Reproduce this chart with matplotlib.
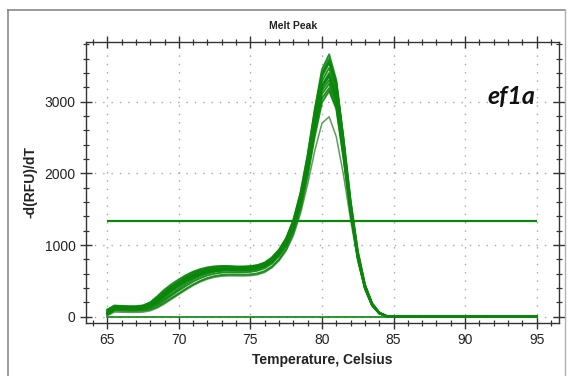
import numpy as np
import matplotlib.pyplot as plt
from matplotlib.ticker import MultipleLocator
from matplotlib.lines import Line2D

plt.rcParams['font.family'] = ['Liberation Sans', 'DejaVu Sans']

# temperatura [C]
temps = [65, 65.5, 66, 66.5, 67, 67.5, 68, 68.5, 69, 69.5, 70, 70.5, 71, 71.5, 72, 72.5,
         73, 73.5, 74, 74.5, 75, 75.5, 76, 76.5, 77, 77.5, 78, 78.5, 79, 79.5, 80, 80.5,
         81, 81.5, 82, 82.5, 83, 83.5, 84, 84.5, 85, 95]

# -d(RFU)/dT dla poszczegolnych dolkow
well_a = [90, 150, 145, 140, 140, 150, 190, 270, 360, 430, 495, 560, 615, 652, 678, 693, 700, 700, 695, 695, 700, 715, 750, 820, 930, 1090, 1340, 1720, 2250, 2900, 3450, 3660, 3300, 2500, 1620, 920, 450, 190, 60, 12, 2, 0]
well_b = [70, 140, 135, 130, 130, 140, 175, 250, 340, 415, 482, 545, 598, 638, 664, 680, 690, 690, 685, 685, 690, 705, 740, 810, 915, 1070, 1310, 1680, 2200, 2850, 3400, 3600, 3250, 2450, 1580, 890, 440, 180, 55, 10, 2, 0]
well_c = [60, 130, 128, 125, 125, 132, 165, 235, 320, 400, 470, 530, 580, 620, 648, 665, 675, 676, 672, 672, 678, 693, 728, 798, 905, 1060, 1300, 1660, 2170, 2800, 3350, 3540, 3200, 2420, 1560, 880, 430, 175, 52, 10, 1, 0]
well_d = [50, 125, 122, 118, 118, 124, 155, 222, 305, 385, 455, 515, 565, 605, 634, 652, 662, 664, 660, 660, 666, 682, 716, 785, 890, 1040, 1275, 1630, 2130, 2750, 3290, 3470, 3150, 2380, 1530, 860, 420, 170, 50, 9, 1, 0]
well_e = [40, 118, 115, 112, 112, 118, 145, 200, 272, 350, 420, 485, 540, 585, 618, 640, 652, 655, 652, 652, 658, 674, 708, 776, 880, 1028, 1260, 1610, 2100, 2710, 3230, 3400, 3100, 2350, 1510, 850, 415, 168, 49, 9, 1, 0]
well_f = [80, 135, 130, 126, 126, 132, 170, 245, 330, 410, 478, 535, 582, 618, 643, 658, 666, 667, 663, 662, 667, 682, 716, 786, 895, 1050, 1290, 1650, 2150, 2740, 3220, 3370, 3080, 2330, 1500, 845, 410, 165, 48, 8, 1, 0]
well_g = [35, 110, 108, 106, 106, 110, 132, 180, 245, 318, 390, 458, 518, 566, 602, 626, 640, 645, 643, 643, 650, 666, 700, 766, 868, 1012, 1240, 1585, 2070, 2660, 3160, 3300, 3020, 2290, 1480, 830, 405, 163, 47, 8, 1, 0]
well_h = [55, 120, 117, 114, 114, 120, 150, 215, 296, 376, 446, 506, 556, 596, 625, 643, 653, 654, 650, 650, 656, 672, 705, 772, 875, 1020, 1248, 1590, 2070, 2640, 3110, 3250, 2980, 2270, 1470, 825, 400, 160, 46, 8, 1, 0]
well_i = [30, 100, 98, 96, 96, 100, 120, 165, 228, 298, 365, 430, 490, 538, 576, 600, 615, 620, 619, 619, 626, 642, 676, 742, 845, 990, 1215, 1550, 2020, 2580, 3050, 3190, 2930, 2230, 1450, 815, 395, 158, 45, 7, 1, 0]
well_j = [25, 85, 82, 80, 80, 84, 100, 140, 198, 262, 325, 390, 450, 500, 540, 566, 582, 588, 588, 586, 590, 604, 636, 700, 800, 945, 1170, 1500, 1960, 2520, 2990, 3150, 2900, 2210, 1440, 810, 392, 156, 44, 7, 1, 0]
well_l = [100, 155, 150, 146, 146, 158, 200, 285, 378, 455, 520, 580, 628, 663, 688, 702, 707, 706, 700, 700, 705, 720, 755, 826, 936, 1098, 1350, 1730, 2260, 2880, 3380, 3560, 3260, 2480, 1600, 905, 445, 185, 58, 11, 2, 0]
well_m = [45, 115, 112, 110, 110, 116, 145, 208, 288, 368, 438, 498, 548, 588, 618, 636, 647, 649, 645, 645, 652, 668, 702, 770, 873, 1018, 1248, 1595, 2085, 2690, 3200, 3350, 3060, 2310, 1490, 838, 408, 164, 48, 8, 1, 0]
# odstajacy dolek (niski pik)
well_k = [15, 65, 62, 60, 60, 64, 82, 122, 180, 245, 310, 375, 435, 485, 525, 550, 565, 570, 570, 568, 572, 586, 618, 682, 780, 920, 1130, 1440, 1850, 2320, 2700, 2790, 2510, 1980, 1350, 780, 385, 155, 44, 7, 1, 0]

# kontrola negatywna i prog
blank_t = [65, 95]
blank_vals = [0, 0]
threshold = 1330
thr_range = [65, 95]

wells = [well_j, well_i, well_g, well_h, well_m, well_e, well_f, well_d, well_c, well_b, well_l, well_a]

fig = plt.figure(figsize=(5.72, 3.76), dpi=100)
ax = fig.add_axes([0.1503, 0.1418, 0.8270, 0.7472])

green = '#0a860a'
ax.plot(blank_t, blank_vals, color=green, lw=1.2, zorder=3)
ax.plot(temps, well_k, color='#5f9a5f', lw=1.1, zorder=3)
for w in wells:
    ax.plot(temps, w, color=green, lw=1.4, alpha=0.9, zorder=3)
ax.hlines(threshold, thr_range[0], thr_range[1], color=green, lw=1.6, zorder=3)

ax.set_xlim(63.51, 96.56)
ax.set_ylim(-84, 3837)
ax.xaxis.set_major_locator(MultipleLocator(5))
ax.xaxis.set_minor_locator(MultipleLocator(1))
ax.yaxis.set_major_locator(MultipleLocator(1000))
ax.yaxis.set_minor_locator(MultipleLocator(200))
ax.tick_params(which='both', direction='inout', top=True, right=True,
               labeltop=False, labelright=False, colors='#333333')
ax.tick_params(which='major', length=8, width=1, labelsize=10, labelcolor='#222222')
ax.tick_params(which='minor', length=5, width=0.9)
ax.grid(True, which='major', color='#a5a5a5', linestyle=(0, (1, 5)), lw=1)
for s in ax.spines.values():
    s.set_color('#333333')
    s.set_linewidth(1)

ax.set_xlabel('Temperature, Celsius', fontsize=10, fontweight='bold', color='#222222', labelpad=4)
ax.set_ylabel('-d(RFU)/dT', fontsize=10, fontweight='bold', color='#222222', labelpad=5)
fig.text(0.512, 0.931, 'Melt Peak', fontsize=7.5, fontweight='bold', color='#222222',
         ha='center', va='center')
ax.text(91.55, 2968, 'ef1a', fontsize=18, fontweight='bold', fontstyle='italic',
        family=['Lato', 'DejaVu Sans'], color='#111111', ha='left', va='baseline', zorder=4)

# ramka okna
fig.add_artist(Line2D([0.014, 0.014], [0.0, 0.973], color='#8a8a8a', lw=1.2))
fig.add_artist(Line2D([0.014, 0.988], [0.973, 0.973], color='#8a8a8a', lw=1.2))
fig.add_artist(Line2D([0.988, 0.988], [0.0, 0.973], color='#b0b0b0', lw=1.0))

fig.savefig('out.png', dpi=100)
